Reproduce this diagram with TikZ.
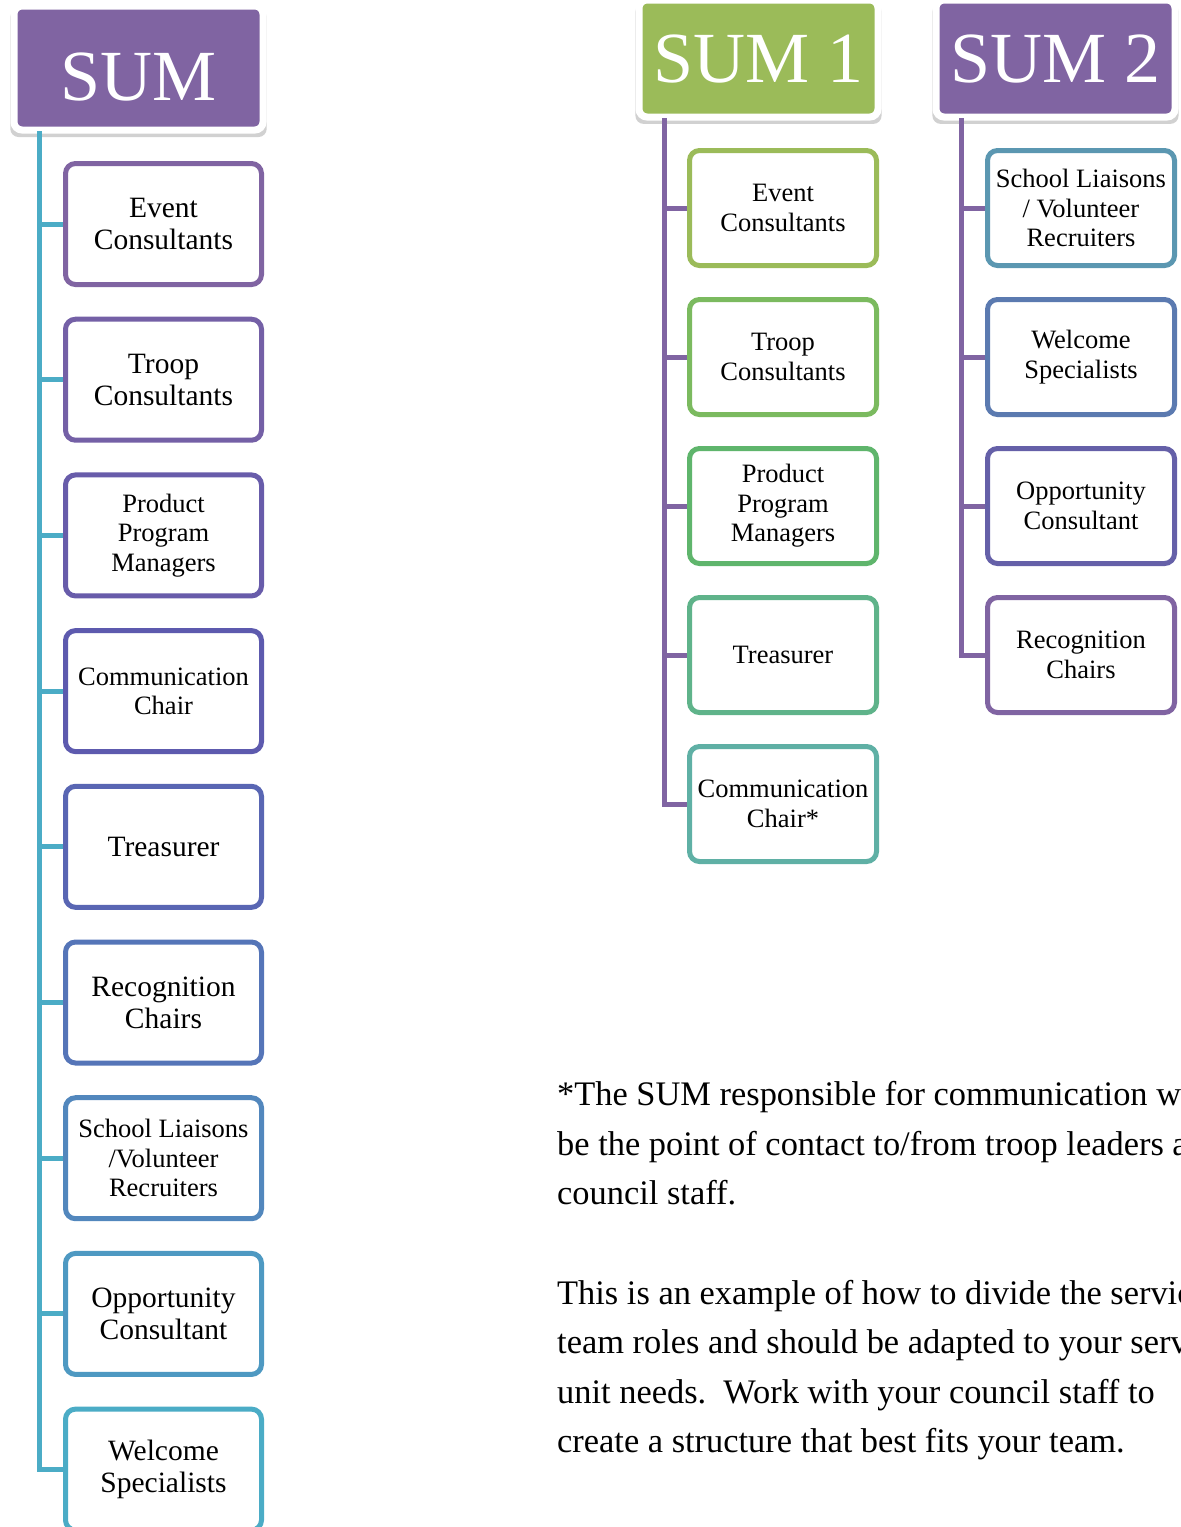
\documentclass[tikz,border=0pt]{standalone}
\usepackage{fontspec}
\setmainfont{Liberation Serif}
\usetikzlibrary{shadows}

\definecolor{sumpurple}{HTML}{8064A2}
\definecolor{sumgreen}{HTML}{9BBB59}
\definecolor{sumteal}{HTML}{4BACC6}
% left column, purple to teal
\definecolor{la}{HTML}{8064A2}
\definecolor{lb}{HTML}{7460A6}
\definecolor{lc}{HTML}{685CAA}
\definecolor{ld}{HTML}{5D5AAE}
\definecolor{le}{HTML}{5966B3}
\definecolor{lf}{HTML}{5575B8}
\definecolor{lg}{HTML}{5287BD}
\definecolor{lh}{HTML}{4E99C2}
\definecolor{li}{HTML}{4BACC6}
% SUM 1, green to teal
\definecolor{ra}{HTML}{9BBB59}
\definecolor{rb}{HTML}{7BBA5F}
\definecolor{rc}{HTML}{5FB56C}
\definecolor{rd}{HTML}{5FB38A}
\definecolor{re}{HTML}{5FB0A5}
% SUM 2, teal to purple
\definecolor{sa}{HTML}{5B97B1}
\definecolor{sb}{HTML}{5B7AB0}
\definecolor{sc}{HTML}{6560A8}
\definecolor{sd}{HTML}{8064A2}

\tikzset{
  title/.style={draw=white, line width=7pt, rounded corners=8pt, text=white,
    font=\fontsize{72}{72}\selectfont, text depth=0pt,
    drop shadow={shadow xshift=0pt, shadow yshift=-5pt, shadow scale=1.03,
      opacity=0.18, fill=black}},
  rolebig/.style={draw, fill=white, line width=5pt, rounded corners=10pt,
    minimum width=196pt, minimum height=121pt, align=center,
    font=\fontsize{29.5}{32}\selectfont},
  rolesmall/.style={draw, fill=white, line width=5pt, rounded corners=10pt,
    minimum width=196pt, minimum height=121pt, align=center,
    font=\fontsize{26.5}{29.5}\selectfont},
  roleright/.style={rolesmall, minimum width=187pt, minimum height=115pt},
  trunk/.style={line width=5pt},
  note/.style={anchor=base west, inner sep=0pt, font=\fontsize{34.4}{49.5}\selectfont}
}

\begin{document}
\begin{tikzpicture}[x=1pt,y=-1pt]
  \useasboundingbox (0,0) rectangle (1181,1527);

  % title boxes
  \node [title, fill=sumpurple, minimum width=249pt, minimum height=124pt, text height=64pt] (sum) at (138.5,68) {SUM};
  \node [title, fill=sumgreen, minimum width=239pt, minimum height=117pt, text height=47pt] (sumone) at (758.5,58.5) {SUM 1};
  \node [title, fill=sumpurple, minimum width=239pt, minimum height=117pt, text height=47pt] (sumtwo) at (1055.5,58.5) {SUM 2};

  % left column
  \node [rolebig, draw=la] (l1) at (163.5,224) {Event\\Consultants};
  \node [rolebig, draw=lb] (l2) at (163.5,379.7) {Troop\\Consultants};
  \node [rolesmall, draw=lc] (l3) at (163.5,535.4) {Product\\Program\\Managers};
  \node [rolesmall, draw=ld] (l4) at (163.5,691.1) {Communication\\Chair};
  \node [rolebig, draw=le] (l5) at (163.5,846.8) {Treasurer};
  \node [rolebig, draw=lf] (l6) at (163.5,1002.5) {Recognition\\Chairs};
  \node [rolesmall, draw=lg] (l7) at (163.5,1158.2) {School Liaisons\\/Volunteer\\Recruiters};
  \node [rolebig, draw=lh] (l8) at (163.5,1313.9) {Opportunity\\Consultant};
  \node [rolebig, draw=li] (l9) at (163.5,1469.6) {Welcome\\Specialists};

  % SUM 1 column
  \node [roleright, draw=ra] (r1) at (783,208) {Event\\Consultants};
  \node [roleright, draw=rb] (r2) at (783,357) {Troop\\Consultants};
  \node [roleright, draw=rc] (r3) at (783,506) {Product\\Program\\Managers};
  \node [roleright, draw=rd] (r4) at (783,655) {Treasurer};
  \node [roleright, draw=re] (r5) at (783,804) {Communication\\Chair*};

  % SUM 2 column
  \node [roleright, draw=sa] (s1) at (1081,208) {School Liaisons\\/ Volunteer\\Recruiters};
  \node [roleright, draw=sb] (s2) at (1081,357) {Welcome\\Specialists};
  \node [roleright, draw=sc] (s3) at (1081,506) {Opportunity\\Consultant};
  \node [roleright, draw=sd] (s4) at (1081,655) {Recognition\\Chairs};

  % trunks and branches
  \coordinate (lt) at (39,131);
  \coordinate (rt) at (664,118);
  \coordinate (st) at (961,118);
  \draw [trunk, sumteal] (lt) |- (l9.west);
  \foreach \i in {1,...,8}
    \draw [trunk, sumteal] (lt |- l\i.west) -- (l\i.west);
  \draw [trunk, sumpurple] (rt) |- (r5.west);
  \foreach \i in {1,...,4}
    \draw [trunk, sumpurple] (rt |- r\i.west) -- (r\i.west);
  \draw [trunk, sumpurple] (st) |- (s4.west);
  \foreach \i in {1,...,3}
    \draw [trunk, sumpurple] (st |- s\i.west) -- (s\i.west);

  % note
  \node [note] (p1) at (557,1105) {*The SUM responsible for communication will};
  \node [note] (p2) at (557,1155) {be the point of contact to/from troop leaders and};
  \node [note] (p3) at (557,1204) {council staff.};
  \node [note] (p4) at (557,1304) {This is an example of how to divide the service};
  \node [note] (p5) at (557,1353) {team roles and should be adapted to your service};
  \node [note] (p6) at (557,1403) {unit needs.\ \ Work with your council staff to};
  \node [note] (p7) at (557,1452) {create a structure that best fits your team.};
\end{tikzpicture}
\end{document}
